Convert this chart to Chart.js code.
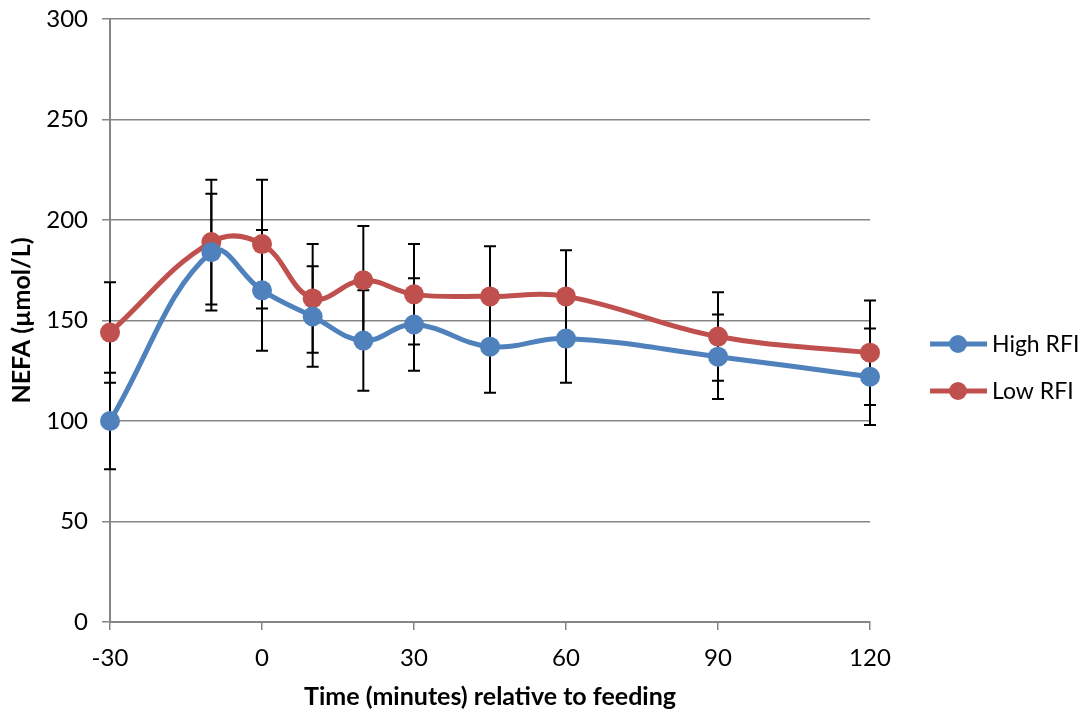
<!DOCTYPE html>
<html>
<head>
<meta charset="utf-8">
<script src="https://cdn.jsdelivr.net/npm/chart.js"></script>
<style>
  html, body { margin: 0; padding: 0; background: #fff; }
  #wrap { width: 1086px; height: 713px; }
</style>
</head>
<body>
<div id="wrap"><canvas id="nefaChart" width="1086" height="713"></canvas></div>
<script>
// time points (minutes relative to feeding)
const timePoints = [-30, -10, 0, 10, 20, 30, 45, 60, 90, 120];
const xTicks = [-30, 0, 30, 60, 90, 120];

// NEFA means (umol/L)
const highRFI = [100, 184, 165, 152, 140, 148, 137, 141, 132, 122];
const lowRFI = [144, 189, 188, 161, 170, 163, 162, 162, 142, 134];

// error bar half-widths
const highErr = [24, 29, 30, 25, 25, 23, 23, 22, 21, 24];
const lowErr = [25, 31, 32, 27, 27, 25, 25, 23, 22, 26];

const BLUE = '#4F81BD';
const RED = '#C0504D';
const GRID = '#868686';
const FONT = 'Lato, "Noto Sans", sans-serif';

const toPoints = (vals) => vals.map((v, i) => ({ x: timePoints[i], y: v }));

// error bars drawn under the lines/markers
const errorBars = {
    id: 'errorBars',
    beforeDatasetsDraw(chart) {
        const { ctx, scales: { x, y } } = chart;
        const errs = [highErr, lowErr];
        ctx.save();
        ctx.strokeStyle = '#000';
        ctx.lineWidth = 2;
        chart.data.datasets.forEach((ds, di) => {
            ds.data.forEach((p, i) => {
                const px = x.getPixelForValue(p.x);
                const top = y.getPixelForValue(p.y + errs[di][i]);
                const bot = y.getPixelForValue(p.y - errs[di][i]);
                ctx.beginPath();
                ctx.moveTo(px, top); ctx.lineTo(px, bot);
                ctx.moveTo(px - 6, top); ctx.lineTo(px + 6, top);
                ctx.moveTo(px - 6, bot); ctx.lineTo(px + 6, bot);
                ctx.stroke();
            });
        });
        ctx.restore();
    }
};

// excel-style legend: line with a marker on it
const sideLegend = {
    id: 'sideLegend',
    afterDraw(chart) {
        const { ctx, chartArea } = chart;
        const x0 = chartArea.right + 60;
        let yy = 344;
        ctx.save();
        chart.data.datasets.forEach(ds => {
            ctx.strokeStyle = ds.borderColor;
            ctx.lineWidth = 5;
            ctx.beginPath();
            ctx.moveTo(x0, yy); ctx.lineTo(x0 + 57, yy);
            ctx.stroke();
            ctx.fillStyle = ds.backgroundColor;
            ctx.beginPath();
            ctx.arc(x0 + 28, yy, 9, 0, Math.PI * 2);
            ctx.fill();
            ctx.fillStyle = '#000';
            ctx.font = '23px ' + FONT;
            ctx.textBaseline = 'middle';
            ctx.fillText(ds.label, x0 + 62, yy + 1);
            yy += 47;
        });
        ctx.restore();
    }
};

new Chart(document.getElementById('nefaChart'), {
    type: 'line',
    data: {
        datasets: [
            {
                label: 'High RFI', data: toPoints(highRFI),
                borderColor: BLUE, backgroundColor: BLUE,
                borderWidth: 5, pointRadius: 10, pointHoverRadius: 10,
                pointBorderWidth: 0, tension: 0.4, clip: false
            },
            {
                label: 'Low RFI', data: toPoints(lowRFI),
                borderColor: RED, backgroundColor: RED,
                borderWidth: 5, pointRadius: 10, pointHoverRadius: 10,
                pointBorderWidth: 0, tension: 0.4, clip: false
            }
        ]
    },
    options: {
        responsive: false,
        animation: false,
        layout: { autoPadding: false, padding: { top: 19, right: 216, left: 0, bottom: 0 } },
        plugins: { legend: { display: false }, tooltip: { enabled: false } },
        scales: {
            x: {
                type: 'linear', min: -30, max: 120,
                afterBuildTicks: (axis) => { axis.ticks = xTicks.map(v => ({ value: v })); },
                afterFit: (axis) => { axis.height = 91; axis.paddingLeft = 0; axis.paddingRight = 0; },
                grid: { drawOnChartArea: false, color: GRID, lineWidth: 1.5, tickLength: 8 },
                border: { color: GRID, width: 2 },
                ticks: { color: '#000', font: { family: FONT, size: 24, lineHeight: 1 }, padding: 16, maxRotation: 0 },
                title: {
                    display: true, text: 'Time (minutes) relative to feeding', color: '#000',
                    font: { family: FONT, size: 25, weight: 'bold', lineHeight: 1 }, padding: { top: 12, bottom: 4 }
                }
            },
            y: {
                min: 0, max: 300,
                afterFit: (axis) => { axis.width = 110; axis.paddingTop = 0; axis.paddingBottom = 0; },
                ticks: { stepSize: 50, color: '#000', font: { family: FONT, size: 24, lineHeight: 1 }, padding: 14 },
                grid: { color: GRID, lineWidth: 1.5, tickLength: 8 },
                border: { color: GRID, width: 2 },
                title: {
                    display: true, text: 'NEFA (µmol/L)', color: '#000',
                    font: { family: FONT, size: 25, weight: 'bold', lineHeight: 1 }, padding: { top: 9, bottom: 4 }
                }
            }
        }
    },
    plugins: [errorBars, sideLegend]
});
</script>
</body>
</html>
